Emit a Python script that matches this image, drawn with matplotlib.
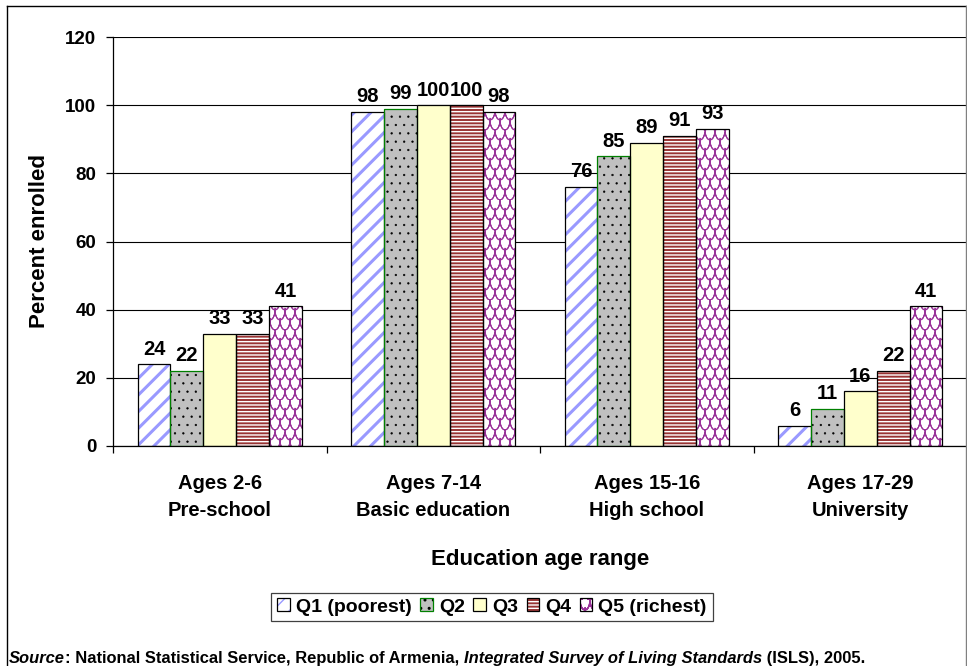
import matplotlib
matplotlib.use("Agg")
import numpy as np
import matplotlib.pyplot as plt
import matplotlib.hatch as mhatch
from matplotlib.path import Path
from matplotlib.lines import Line2D
from matplotlib.offsetbox import TextArea, HPacker, AnchoredOffsetbox

# ---- data -------------------------------------------------------------
categories = ["Ages 2-6\nPre-school", "Ages 7-14\nBasic education",
              "Ages 15-16\nHigh school", "Ages 17-29\nUniversity"]
quintiles = ["Q1 (poorest)", "Q2", "Q3", "Q4", "Q5 (richest)"]
q1 = [24, 98, 76, 6]
q2 = [22, 99, 85, 11]
q3 = [33, 100, 89, 16]
q4 = [33, 100, 91, 22]
q5 = [41, 98, 93, 41]
yticks = [0, 20, 40, 60, 80, 100, 120]


# ---- a fish-scale fill pattern, used for the "O" hatch character --------
class ScaleHatch(mhatch.HatchPatternBase):
    def __init__(self, hatch, density):
        self.n = int(hatch.count("O") * 5)
        self.seg = 10
        per_arc = 2 * (self.seg + 1) - 1
        self.num_vertices = self.n * (self.n + 2) * per_arc if self.n else 0

    def set_vertices_and_codes(self, vertices, codes):
        n, seg = self.n, self.seg
        s = 1.0 / n
        t = np.linspace(np.pi, 2 * np.pi, seg + 1)
        idx = 0
        for j in range(n):
            cy = (j + 1) * s
            off = 0.5 * s if j % 2 else 0.0
            for i in range(-1, n + 1):
                cx = i * s + off
                px = cx + 0.5 * s * np.cos(t)
                py = cy + s * np.sin(t)
                pts = np.column_stack([px, py])
                # out and back so the stroke encloses no area
                path_pts = np.vstack([pts, pts[-2::-1]])
                m = len(path_pts)
                vertices[idx:idx + m] = path_pts
                codes[idx] = Path.MOVETO
                codes[idx + 1:idx + m] = Path.LINETO
                idx += m


mhatch._hatch_types[:] = [ScaleHatch if h is mhatch.LargeCircles else h
                          for h in mhatch._hatch_types]

# ---- figure -------------------------------------------------------------
plt.rcParams["font.family"] = ["Liberation Sans", "DejaVu Sans"]
plt.rcParams["font.weight"] = "bold"
plt.rcParams["hatch.linewidth"] = 1.0

W, H = 967, 666
fig = plt.figure(figsize=(W / 100, H / 100), dpi=100)
ax = fig.add_axes([113 / W, 1 - 446 / H, 1 - 113 / W, (446 - 37) / H])

series = [q1, q2, q3, q4, q5]
styles = [
    dict(face="white", hatch="//", hcolor="#9999FF", edge="black", hlw=2.2),
    dict(face="#C0C0C0", hatch="..", hcolor="black", edge="#008000", hlw=0.4),
    dict(face="#FFFFCC", hatch=None, hcolor="black", edge="black", hlw=1.0),
    dict(face="#993333", hatch="-----", hcolor="white", edge="black", hlw=1.0),
    dict(face="white", hatch="OO", hcolor="#993399", edge="black", hlw=0.75),
]

x = np.arange(len(categories))
w = 1 / 6.5
handles = []
for k, (vals, st) in enumerate(zip(series, styles)):
    pos = x + (k - 2) * w
    with plt.rc_context({"hatch.linewidth": st["hlw"]}):
        fill = ax.bar(pos, vals, w, color=st["face"], edgecolor=st["hcolor"],
                      linewidth=0, hatch=st["hatch"], zorder=2)
    for p in fill.patches:
        if hasattr(p, "set_hatch_linewidth"):
            p.set_hatch_linewidth(st["hlw"])
    edge = ax.bar(pos, vals, w, facecolor="none", edgecolor=st["edge"],
                  linewidth=0.9, zorder=3)
    for p, v in zip(pos, vals):
        ax.annotate(f"{v}", (p, v), xytext=(0, 4), textcoords="offset points",
                    ha="center", va="bottom", fontsize=14.5, fontweight="bold")
    handles.append((fill, edge))

ax.set_xlim(-0.5, len(categories) - 0.5)
ax.set_ylim(0, 120)
ax.set_yticks(yticks)
ax.yaxis.grid(True, color="black", linewidth=0.8, zorder=0.5)
ax.set_axisbelow(True)
for side in ("top", "right"):
    ax.spines[side].set_visible(False)
ax.spines["left"].set_linewidth(0.9)
ax.spines["bottom"].set_linewidth(0.9)
ax.tick_params(axis="y", direction="out", length=5, width=0.9, pad=7,
               labelsize=13.5)
ax.set_xticks(x)
ax.set_xticklabels(categories, fontsize=14.5, linespacing=1.55)
ax.set_xticks(np.arange(len(categories) + 1) - 0.5, minor=True)
ax.tick_params(axis="x", which="major", length=0, pad=20)
ax.tick_params(axis="x", which="minor", direction="out", length=5, width=0.9)

fig.text(540 / W, 1 - 559 / H, "Education age range", ha="center",
         va="center", fontsize=16, fontweight="bold")
fig.text(40 / W, 1 - 241 / H, "Percent enrolled", ha="center", va="center",
         rotation=90, fontsize=16, fontweight="bold")

leg = fig.legend(handles, quintiles, loc="center",
                 bbox_to_anchor=(492 / W, 1 - 607 / H), ncol=5,
                 fancybox=False, edgecolor="#404040", framealpha=1,
                 handlelength=0.65, handleheight=0.65, handletextpad=0.3,
                 columnspacing=0.45, borderpad=0.3, borderaxespad=0,
                 prop=dict(size=14, weight="bold"))
leg.get_frame().set_linewidth(0.9)

# chart frame
fig.add_artist(Line2D([7 / W, 7 / W], [0, 1 - 6 / H], color="black", lw=1,
                      transform=fig.transFigure))
fig.add_artist(Line2D([7 / W, 966 / W], [1 - 6 / H, 1 - 6 / H], color="black",
                      lw=1, transform=fig.transFigure))
fig.add_artist(Line2D([966 / W, 966 / W], [0, 1 - 6 / H], color="#808080",
                      lw=1, transform=fig.transFigure))

# source line with mixed styles
src_family = ["Liberation Sans", "DejaVu Sans"]
pieces = [("Source", "italic"),
          (": National Statistical Service, Republic of Armenia, ", "normal"),
          ("Integrated Survey of Living Standards", "italic"),
          (" (ISLS), 2005.", "normal")]
areas = [TextArea(t, textprops=dict(fontsize=11.9, fontweight="bold",
                                    fontstyle=st, family=src_family))
         for t, st in pieces]
pack = HPacker(children=areas, sep=0, pad=0, align="baseline")
box = AnchoredOffsetbox(loc="lower left", child=pack, pad=0, borderpad=0,
                        frameon=False, bbox_to_anchor=(9 / W, 1 - 666 / H),
                        bbox_transform=fig.transFigure)
fig.add_artist(box)

fig.savefig("out.png", dpi=100)
